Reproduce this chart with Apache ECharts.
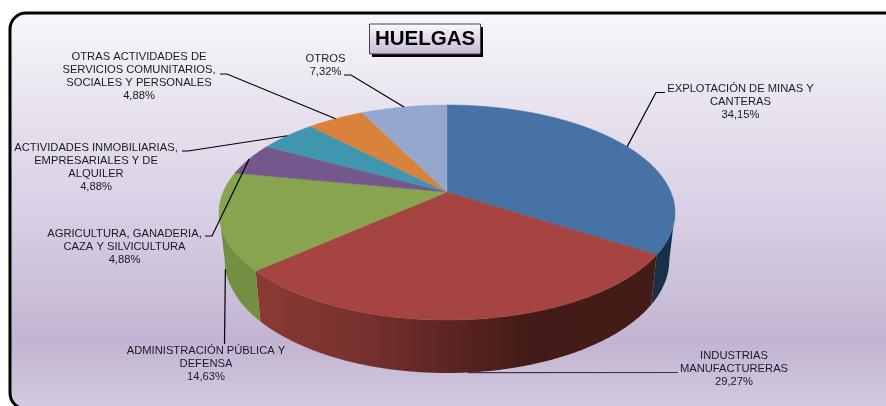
<!DOCTYPE html>
<html>
<head>
<meta charset="utf-8">
<title>HUELGAS</title>
<script src="https://cdn.jsdelivr.net/npm/echarts@6/dist/echarts.min.js"></script>
<style>
html, body { margin: 0; padding: 0; background: #fff; }
#chart { width: 886px; height: 406px; }
</style>
</head>
<body>
<div id="chart"></div>
<script>
var categories = [
	'EXPLOTACIÓN DE MINAS Y\nCANTERAS',
	'INDUSTRIAS\nMANUFACTURERAS',
	'ADMINISTRACIÓN PÚBLICA Y\nDEFENSA',
	'AGRICULTURA, GANADERIA,\nCAZA Y SILVICULTURA',
	'ACTIVIDADES INMOBILIARIAS,\nEMPRESARIALES Y DE\nALQUILER',
	'OTRAS ACTIVIDADES DE\nSERVICIOS COMUNITARIOS,\nSOCIALES Y PERSONALES',
	'OTROS'
];
var values = [34.15, 29.27, 14.63, 4.88, 4.88, 4.88, 7.32];
var topColors = ['#4672a5', '#a64442', '#89a44e', '#73578d', '#4096ae', '#d8823b', '#94a8ce'];

// label centre, leader elbow, leader end, and whether the leader starts on the lower rim
var labelPos = [
	[740.5, 102], [734, 369], [206, 364], [124.5, 247], [96, 167], [139, 76.5], [325.5, 65.5]
];
var leaderElbow = [
	[[656, 92.5], [665, 92.5]],
	[[678, 372.5]],
	[[224.5, 344]],
	[[212, 236], [205, 236]],
	[[188, 151], [182, 151]],
	[[227, 74], [220, 74]],
	[[351, 75], [344, 75]]
];
var leaderOnRim = [false, true, true, false, false, false, false];

var total = 0;
for (var i = 0; i < values.length; i++) total += values[i];

// disc seen in perspective: circle point -> screen
var cx = 447, cy = 192, rx = 223.8, ry = 103.6, persp = 0.1907;
// angles where the disc outline is widest, the wall only shows between them
var wallFrom = 101, wallTo = 259;
function topPoint(deg) {
	var a = deg * Math.PI / 180;
	var w = 1 + persp * Math.cos(a);
	return [cx + rx * Math.sin(a) / w, cy - ry * Math.cos(a) / w];
}
function rimPoint(deg) {
	var p = topPoint(deg);
	return [cx + 0.975 * (p[0] - cx), 238.6 + 1.05 * (p[1] - cy)];
}
function sliceAngles(idx) {
	var sum = 0;
	for (var i = 0; i < idx; i++) sum += values[i];
	return [sum / total * 360, (sum + values[idx]) / total * 360];
}
function percentText(v) {
	return v.toFixed(2).replace('.', ',') + '%';
}

function wallFill(idx) {
	if (idx == 0) return '#1a3049';
	if (idx == 2) return '#748f42';
	if (idx == 1) {
		return new echarts.graphic.LinearGradient(258, 0, 655, 0, [
			{ offset: 0, color: '#8a3a33' },
			{ offset: 0.25, color: '#78322e' },
			{ offset: 0.48, color: '#5c2522' },
			{ offset: 0.68, color: '#441b18' },
			{ offset: 1, color: '#431b17' }
		], true);
	}
	return topColors[idx];
}

function renderWall(params, api) {
	var idx = params.dataIndex;
	var ang = sliceAngles(idx);
	var from = Math.max(ang[0], wallFrom), to = Math.min(ang[1], wallTo);
	if (from >= to) return null;
	var pts = [], back = [];
	for (var d = from; d < to; d += 0.5) {
		pts.push(topPoint(d));
		back.unshift(rimPoint(d));
	}
	pts.push(topPoint(to));
	back.unshift(rimPoint(to));
	return {
		type: 'polygon',
		shape: { points: pts.concat(back) },
		style: { fill: wallFill(idx) }
	};
}

function renderTop(params, api) {
	var idx = params.dataIndex;
	var ang = sliceAngles(idx);
	var pts = [[cx, cy]];
	for (var d = ang[0]; d < ang[1]; d += 0.5) pts.push(topPoint(d));
	pts.push(topPoint(ang[1]));
	return {
		type: 'polygon',
		shape: { points: pts },
		style: { fill: topColors[idx], stroke: topColors[idx], lineWidth: 0.5 }
	};
}

function renderLabel(params, api) {
	var idx = params.dataIndex;
	var ang = sliceAngles(idx);
	var mid = (ang[0] + ang[1]) / 2;
	var start = leaderOnRim[idx] ? rimPoint(mid) : topPoint(mid);
	return {
		type: 'group',
		children: [
			{
				type: 'polyline',
				shape: { points: [start].concat(leaderElbow[idx]) },
				style: { fill: null, stroke: idx == 1 ? '#3b3540' : '#000', lineWidth: 1.2 }
			},
			{
				type: 'text',
				style: {
					x: labelPos[idx][0],
					y: labelPos[idx][1],
					text: categories[idx] + '\n' + percentText(api.value(0)),
					align: 'center',
					verticalAlign: 'middle',
					font: '11.2px "Liberation Sans"',
					lineHeight: 13,
					fill: '#1c1a20'
				}
			}
		]
	};
}

var myChart = echarts.init(document.getElementById('chart'));
var option = {
	animation: false,
	graphic: [
		{
			type: 'rect',
			z: -10,
			shape: { x: 10, y: 13, width: 900, height: 396, r: 16 },
			style: {
				fill: new echarts.graphic.LinearGradient(0, 0, 0, 1, [
					{ offset: 0, color: '#f8f7fb' },
					{ offset: 0.25, color: '#e7e2ee' },
					{ offset: 0.5, color: '#d9d0e5' },
					{ offset: 0.83, color: '#c2b4d2' },
					{ offset: 1, color: '#d4cce2' }
				]),
				stroke: '#000',
				lineWidth: 3
			}
		},
		{
			type: 'rect',
			z: 5,
			shape: { x: 372, y: 27, width: 111, height: 30 },
			style: { fill: '#000' }
		},
		{
			type: 'rect',
			z: 6,
			shape: { x: 369.5, y: 24, width: 111, height: 30 },
			style: {
				fill: new echarts.graphic.LinearGradient(0, 0, 0, 1, [
					{ offset: 0, color: '#fbfafc' },
					{ offset: 1, color: '#c6b8d6' }
				]),
				stroke: '#444',
				lineWidth: 1
			}
		},
		{
			type: 'text',
			z: 7,
			style: {
				x: 425,
				y: 39.5,
				text: 'HUELGAS',
				align: 'center',
				verticalAlign: 'middle',
				font: 'bold 20.5px "Liberation Sans"',
				fill: '#000'
			}
		}
	],
	series: [
		{ type: 'custom', coordinateSystem: 'none', z: 2, silent: true, renderItem: renderWall, data: values },
		{ type: 'custom', coordinateSystem: 'none', z: 3, silent: true, renderItem: renderTop, data: values },
		{ type: 'custom', coordinateSystem: 'none', z: 4, silent: true, renderItem: renderLabel, data: values }
	]
};
myChart.setOption(option);
</script>
</body>
</html>
